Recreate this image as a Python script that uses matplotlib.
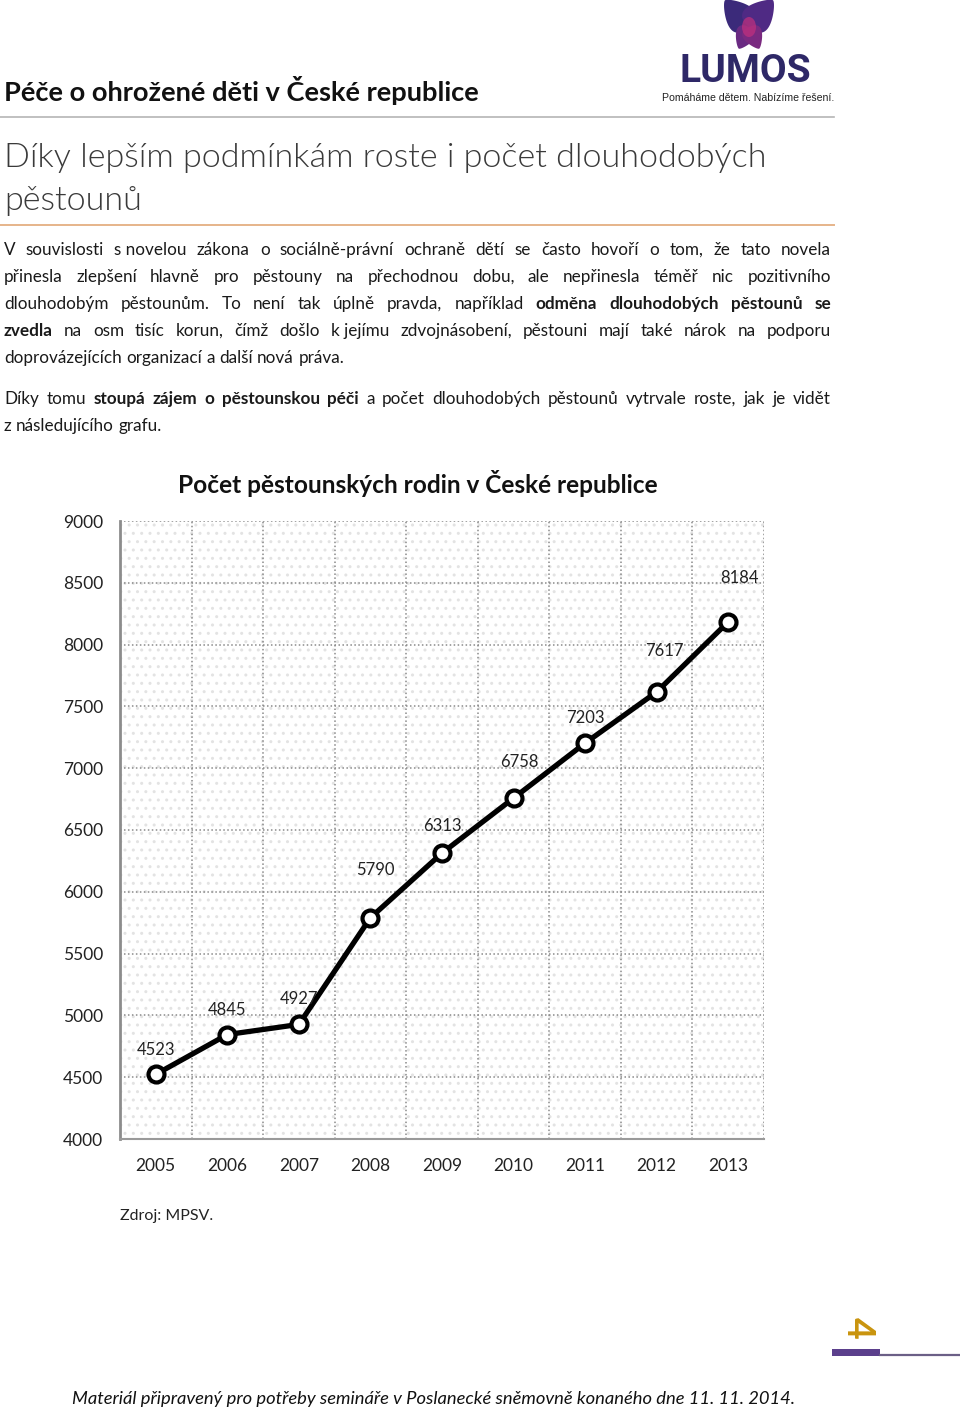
import numpy as np
import matplotlib
matplotlib.use("Agg")
import matplotlib.pyplot as plt
from matplotlib.patches import Rectangle, Ellipse, Polygon

# chart data
years = ["2005", "2006", "2007", "2008", "2009", "2010", "2011", "2012", "2013"]
families = [4523, 4845, 4927, 5790, 6313, 6758, 7203, 7617, 8184]
y_ticks = [4000, 4500, 5000, 5500, 6000, 6500, 7000, 7500, 8000, 8500, 9000]

# label nudges (pixels) as placed in the original document
label_dx = [0, 0, 0, 5, 0, 6, 0, 8, 11]
label_dy = [24, 25, 25, 48, 27, 36, 25, 41, 44]

BODY = ["Lato", "DejaVu Sans"]
TXT = "#1a1a1a"

W, H = 960, 1412
fig = plt.figure(figsize=(W / 100, H / 100), dpi=100)
page = fig.add_axes([0, 0, 1, 1])
page.set_xlim(0, W)
page.set_ylim(H, 0)
page.axis("off")


def petal(cx, cy, ang, length, width, color):
    # teardrop leaf from the centre outward; ang in degrees, screen coords (y down)
    t = np.linspace(0, 1, 80)
    half = width / 2 * np.sin(np.pi * t ** 0.55) ** 0.7
    px = np.concatenate([t * length, (t * length)[::-1]])
    py = np.concatenate([half, -half[::-1]])
    a = np.deg2rad(ang)
    xs = cx + px * np.cos(a) - py * np.sin(a)
    ys = cy + px * np.sin(a) + py * np.cos(a)
    page.add_patch(Polygon(np.column_stack([xs, ys]), closed=True, color=color, lw=0, zorder=2))


# ---- logo ----
bx, by = 749, 27
petal(bx, by, -132, 36, 30, "#3b2a7a")
petal(bx, by, -48, 36, 30, "#4f2a84")
petal(bx, by, 115, 24, 20, "#6a2a82")
petal(bx, by, 65, 24, 20, "#7a2a80")
page.add_patch(Ellipse((bx, by), 14, 20, color="#c2307e", alpha=0.7, lw=0, zorder=3))
page.text(745, 82, "LUMOS", fontsize=28, fontweight="bold", family=["Roboto", "DejaVu Sans"],
          color="#2e2867", ha="center", va="baseline")
page.text(748, 101, "Pomáháme dětem. Nabízíme řešení.", fontsize=7.6,
          family=["Liberation Sans"], color="#222222",
          ha="center", va="baseline")

# ---- header ----
page.text(4, 101, "Péče o ohrožené děti v České republice", fontsize=19.6, fontweight="bold",
          family=BODY, color="#111111", va="baseline")
page.plot([0, 834], [117, 117], color="#b5b5b5", lw=1.2)
page.text(4, 167, "Díky lepším podmínkám roste i počet dlouhodobých", fontsize=24.6,
          fontweight=300, family=BODY, color="#3a3a3a", va="baseline")
page.text(4, 210, "pěstounů", fontsize=24.6, fontweight=300, family=BODY,
          color="#3a3a3a", va="baseline")
page.plot([0, 834], [225, 225], color="#e6b48a", lw=1.4)

# ---- paragraph text (justified) ----
lines = [
    ([("V souvislosti s~novelou zákona o sociálně-právní ochraně dětí se často hovoří o tom, že tato novela", False)], 255, True),
    ([("přinesla zlepšení hlavně pro pěstouny na přechodnou dobu, ale nepřinesla téměř nic pozitivního", False)], 282, True),
    ([("dlouhodobým pěstounům. To není tak úplně pravda, například", False),
      ("odměna dlouhodobých pěstounů se", True)], 309, True),
    ([("zvedla", True),
      ("na osm tisíc korun, čímž došlo k~jejímu zdvojnásobení, pěstouni mají také nárok na podporu", False)], 336, True),
    ([("doprovázejících organizací a další nová práva.", False)], 363, False),
    ([("Díky tomu", False), ("stoupá zájem o pěstounskou péči", True),
      ("a počet dlouhodobých pěstounů vytrvale roste, jak je vidět", False)], 404, True),
    ([("z následujícího grafu.", False)], 431, False),
]

renderer = fig.canvas.get_renderer()
x_left, x_right = 4, 831
t1 = page.text(0, 0, "aa", fontsize=12.3, family=BODY)
t2 = page.text(0, 0, "a a", fontsize=12.3, family=BODY)
space_w = t2.get_window_extent(renderer).width - t1.get_window_extent(renderer).width
t1.remove()
t2.remove()

for segs, y, justify in lines:
    words = []
    for txt, bold in segs:
        for w in txt.split(" "):
            if w:
                words.append((w.replace("~", " "), bold))
    texts = [page.text(x_left, y, w, fontsize=12.3, family=BODY, color=TXT,
                       fontweight="bold" if b else "normal", va="baseline", ha="left")
             for w, b in words]
    widths = [t.get_window_extent(renderer).width for t in texts]
    if justify and len(texts) > 1:
        gap = (x_right - x_left - sum(widths)) / (len(texts) - 1)
    else:
        gap = space_w
    x = x_left
    for t, w in zip(texts, widths):
        t.set_x(x)
        x += w + gap

# ---- chart ----
page.text(418, 493, "Počet pěstounských rodin v České republice", fontsize=17.6, fontweight="bold",
          family=BODY, color="#111111", ha="center", va="baseline")

ax_l, ax_r, ax_t, ax_b = 120, 764, 521, 1139
ax = fig.add_axes([ax_l / W, 1 - ax_b / H, (ax_r - ax_l) / W, (ax_b - ax_t) / H])
ax.add_patch(Rectangle((0, 0), 1, 1, transform=ax.transAxes, facecolor="white",
                       edgecolor="#e3e3e3", hatch="..", lw=0, zorder=0))
x = np.arange(len(years))
ax.plot(x, families, color="black", lw=3.8, marker="o", ms=11.5, mfc="white",
        mec="black", mew=3, zorder=5, clip_on=False)
for i, v in enumerate(families):
    ax.annotate(str(v), (x[i], v), xytext=(label_dx[i], label_dy[i]),
                textcoords="offset pixels", ha="center", va="center",
                fontsize=12, family=BODY, color="#222222", zorder=6)

ax.set_xlim(-0.5, len(years) - 0.5)
ax.set_ylim(4000, 9000)
ax.set_yticks(y_ticks)
ax.set_yticklabels([str(t) for t in y_ticks])
ax.set_xticks(x)
ax.set_xticklabels(years)
ax.set_xticks(np.arange(-0.5, len(years), 1), minor=True)
ax.tick_params(which="both", length=0)
ax.tick_params(axis="y", pad=12, labelsize=12.5, labelcolor="#222222")
ax.tick_params(axis="x", pad=14, labelsize=12.5, labelcolor="#222222")
for lab in ax.get_xticklabels() + ax.get_yticklabels():
    lab.set_family(BODY)
ax.grid(which="major", axis="y", ls=(0, (1, 1.6)), color="#8a8a8a", lw=1.1)
ax.grid(which="minor", axis="x", ls=(0, (1, 1.6)), color="#8a8a8a", lw=1.1)
ax.grid(which="major", axis="x", visible=False)
ax.set_axisbelow(True)
for s in ["top", "right"]:
    ax.spines[s].set_visible(False)
ax.spines["left"].set_color("#8c8c8c")
ax.spines["left"].set_linewidth(2)
ax.spines["bottom"].set_color("#9a9a9a")
ax.spines["bottom"].set_linewidth(1.5)
ax.set_zorder(2)

page.text(120, 1220, "Zdroj: MPSV.", fontsize=11.5, family=BODY, color="#222222", va="baseline")

# ---- page number and footer ----
page.text(858, 1328, "4", fontsize=27, fontweight="bold", family=BODY, color="#c9940e",
          rotation=-90, ha="center", va="center")
page.add_patch(Rectangle((832, 1349), 48, 7, color="#5b3f8c", lw=0))
page.plot([880, 960], [1355, 1355], color="#6b5f86", lw=1.6)
page.text(434, 1404, "Materiál připravený pro potřeby semináře v Poslanecké sněmovně konaného dne 11. 11. 2014.",
          fontsize=13.2, fontstyle="italic", family=BODY, color="#111111", ha="center", va="baseline")

fig.savefig("out.png", dpi=100)
